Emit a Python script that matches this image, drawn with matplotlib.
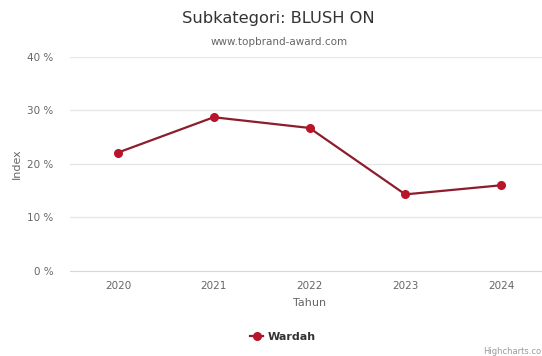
import matplotlib
matplotlib.use("Agg")
import matplotlib.pyplot as plt

# data
years = ["2020", "2021", "2022", "2023", "2024"]
wardah = [22.1, 28.7, 26.7, 14.3, 16.0]
y_ticks = [0, 10, 20, 30, 40]

W, H = 542, 356
fig = plt.figure(figsize=(W / 100, H / 100), dpi=100)
fig.patch.set_facecolor("white")

# plot area runs past the right edge, like the cropped screenshot
left, right, top, bottom = 70, 549, 56.7, 271
ax = fig.add_axes([left / W, 1 - bottom / H, (right - left) / W, (bottom - top) / H])

x = list(range(len(years)))
ax.plot(x, wardah, color="#8c1d2c", lw=1.6, marker="o", ms=5.5,
        mfc="#b8142a", mec="#b8142a", label="Wardah", zorder=3)

ax.set_xlim(-0.5, len(years) - 0.5)
ax.set_ylim(0, 40)
ax.set_yticks(y_ticks)
ax.set_yticklabels([f"{v} %" for v in y_ticks])
ax.set_xticks(x)
ax.set_xticklabels(years)
ax.grid(axis="y", color="#e6e6e6", lw=0.9)
ax.set_axisbelow(True)
for s in ["top", "right", "left"]:
    ax.spines[s].set_visible(False)
ax.spines["bottom"].set_color("#d8d8d8")
ax.tick_params(axis="both", length=0, labelsize=7.5, labelcolor="#666666")
ax.tick_params(axis="x", pad=7)
ax.tick_params(axis="y", pad=12)

ax.set_xlabel("Tahun", fontsize=8, color="#666666", labelpad=5)
fig.text(17 / W, 1 - 164 / H, "Index", rotation=90, ha="center", va="center",
         fontsize=8, color="#666666")

fig.text(278 / W, 1 - 19 / H, "Subkategori: BLUSH ON", ha="center", va="center",
         fontsize=11.7, color="#333333")
fig.text(279 / W, 1 - 42 / H, "www.topbrand-award.com", ha="center", va="center",
         fontsize=7.5, color="#666666")

leg = fig.legend(loc="center", bbox_to_anchor=(283 / W, 1 - 337 / H), frameon=False,
                 handlelength=1.2, handletextpad=0.4,
                 prop={"size": 8, "weight": "bold"})
for t in leg.get_texts():
    t.set_color("#333333")

# credit text is cut by the screenshot edge in the reference
fig.text(541 / W, 1 - 352 / H, "Highcharts.co", ha="right", va="center",
         fontsize=6, color="#999999")

fig.savefig("out.png", dpi=100)
